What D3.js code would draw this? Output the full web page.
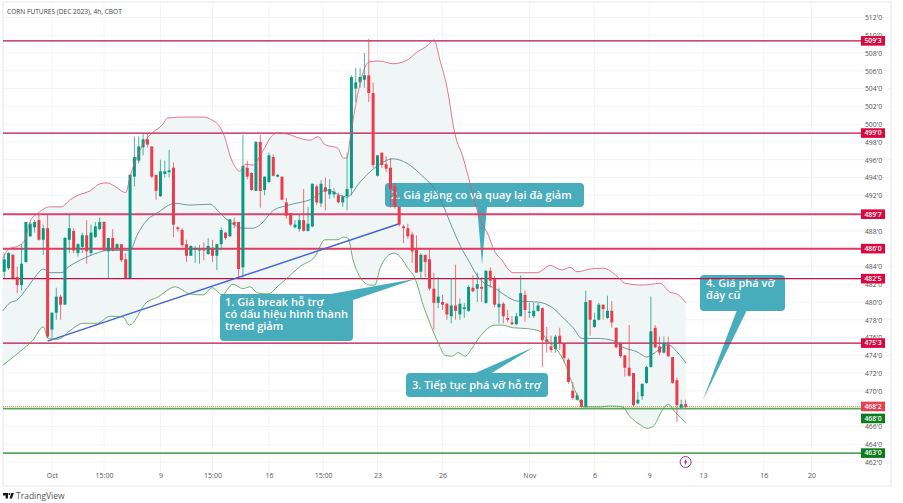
<!DOCTYPE html>
<html><head><meta charset="utf-8">
<script src="https://cdn.jsdelivr.net/npm/d3@7"></script>
<style>html,body{margin:0;padding:0;background:#fff}svg{display:block}text{font-family:"Open Sans",sans-serif}</style>
</head><body><div id="c"></div>
<script>
const titleText = "CORN FUTURES (DEC 2023), 4h, CBOT";
const opens = [483.4,483.8,485.3,482.8,481.9,484.5,487.4,488.4,489.2,487.0,488.3,476.9,478.8,480.6,479.7,487.0,488.0,485.5,486.2,487.5,485.5,487.3,488.2,489.0,485.7,487.2,486.0,486.5,484.8,482.7,494.1,495.9,497.4,498.3,497.5,494.3,491.9,494.4,494.6,495.1,488.4,488.1,486.5,485.2,486.0,485.8,485.9,485.4,486.1,485.2,486.5,487.8,487.4,489.0,489.0,483.9,495.1,494.5,492.5,498.0,492.6,493.5,496.3,494.1,494.1,491.2,490.0,488.4,488.2,489.2,488.0,488.5,493.0,491.1,492.9,492.1,492.1,492.0,491.2,491.9,492.8,504.0,504.7,505.0,505.5,503.5,494.2,496.8,495.5,495.1,493.0,490.7,488.5,488.3,487.6,485.9,483.4,485.3,484.8,481.5,479.9,480.0,479.8,478.4,479.6,478.6,479.2,479.0,481.6,481.5,481.7,479.9,483.5,482.6,479.4,479.8,478.2,477.7,477.5,478.4,480.8,478.9,478.4,479.0,479.3,475.8,475.0,474.7,476.2,475.3,473.5,470.0,469.0,469.0,468.2,480.2,477.2,478.0,479.7,478.2,479.0,477.1,475.4,474.0,472.6,472.0,468.6,469.4,470.9,472.7,477.1,475.0,474.3,475.2,473.8,471.2,468.1,468.5];
const highs = [485.5,485.6,485.4,484.0,486.5,489.0,489.0,489.2,489.8,488.7,489.8,478.8,481.6,480.8,487.3,489.8,488.3,486.6,487.8,489.2,488.7,489.0,489.5,489.1,487.2,488.2,486.6,486.5,485.5,494.4,498.6,498.6,499.0,499.0,497.5,494.3,496.0,495.9,497.1,495.7,488.5,488.3,487.0,486.4,486.3,486.4,486.7,487.2,487.0,486.5,488.4,487.9,489.3,489.5,489.0,498.8,495.9,494.6,498.1,498.8,494.1,496.8,496.6,494.4,494.1,491.7,490.0,489.2,489.8,492.7,490.7,493.3,493.2,493.7,494.0,493.8,492.8,492.3,492.0,496.8,505.5,506.3,506.3,508.0,509.6,504.7,496.5,496.8,496.4,496.2,493.4,490.7,488.7,488.8,487.9,487.5,485.5,485.3,486.0,483.3,482.8,480.8,479.9,482.7,484.2,480.4,479.9,481.9,483.0,483.3,482.8,483.6,483.9,482.9,481.6,480.0,479.1,478.4,478.8,483.0,481.3,479.9,479.9,479.9,479.4,477.2,476.2,476.3,477.1,475.3,473.7,471.0,469.8,469.1,481.3,480.2,478.8,479.9,479.7,480.7,480.1,477.1,475.4,474.0,477.4,472.0,469.9,470.8,472.8,480.6,477.4,476.1,476.1,476.1,473.8,471.5,469.0,469.0];
const lows = [482.7,483.6,482.7,481.0,481.3,484.4,487.3,487.8,486.9,485.3,475.9,475.9,478.0,478.0,479.7,485.5,485.5,485.1,485.5,484.3,485.3,487.2,488.1,485.7,482.7,485.7,485.8,484.5,482.6,482.7,493.0,495.6,496.5,497.4,493.9,491.5,491.8,494.0,494.0,487.3,487.9,486.2,484.5,485.2,484.4,484.3,484.7,485.3,484.5,483.6,485.8,487.0,487.3,488.3,482.7,482.7,493.8,492.5,492.5,490.6,492.0,493.4,494.1,494.0,491.4,489.4,488.5,488.3,487.9,487.9,487.9,488.4,490.9,490.7,490.3,491.6,491.7,491.1,490.7,490.3,492.0,502.5,504.1,504.1,502.5,495.1,494.1,495.1,494.6,490.6,490.5,488.5,486.6,487.1,484.4,483.3,482.7,482.8,481.3,476.9,479.3,479.1,478.0,477.6,478.0,478.0,478.2,478.9,481.1,480.0,480.0,479.8,481.6,479.4,477.6,477.6,477.7,477.4,477.4,478.4,477.8,478.2,478.2,478.9,472.7,474.3,474.3,474.3,474.6,473.2,470.8,469.0,468.9,468.1,468.1,476.2,477.1,477.9,478.0,478.1,477.1,474.8,473.7,471.6,471.6,468.3,468.5,469.0,470.8,472.6,474.8,474.0,474.2,473.8,470.8,466.5,468.1,468.1];
const closes = [484.8,485.5,482.7,481.9,484.3,489.0,488.8,489.0,487.0,488.3,476.1,478.8,480.6,479.7,487.2,488.3,485.8,486.5,487.5,485.7,487.8,488.5,489.0,485.8,487.2,485.8,486.5,484.7,482.7,494.3,496.3,497.5,498.3,497.7,494.1,492.5,494.7,494.7,494.8,488.7,488.2,486.4,485.2,486.3,486.0,485.9,485.8,486.3,485.2,486.5,488.1,487.2,489.3,488.7,483.7,495.3,494.1,492.6,498.0,492.5,494.1,496.5,494.2,494.3,491.5,489.7,488.7,488.7,489.2,488.0,488.8,493.3,491.2,493.3,492.4,492.7,492.4,491.2,491.9,492.7,505.3,504.7,505.3,505.5,503.5,495.4,496.5,495.4,495.0,492.7,490.7,488.7,488.3,487.4,485.7,483.3,485.3,484.5,481.5,479.9,480.6,479.7,478.6,479.6,479.0,479.8,479.4,481.7,481.2,482.0,481.5,483.5,482.4,479.7,479.8,478.4,478.0,477.5,478.4,481.0,479.1,478.9,479.0,479.6,475.7,475.5,474.6,476.1,475.3,473.7,471.0,469.2,469.5,468.2,480.0,478.0,478.0,479.7,479.2,479.0,477.7,474.9,473.9,472.6,471.7,468.4,469.0,470.8,472.7,476.7,474.9,474.3,475.4,473.9,470.9,468.4,468.5,468.2];

const upperIdx = [-0.3,0.9,3.6,4.8,5.9,7.8,10.6,13.1,15.2,17,19.8,22.1,23.7,25.5,26.7,28,29,30.6,32.9,34.3,36.4,37.7,41.7,45.8,48.1,49.7,50.9,52,53.2,54.3,55.5,57.3,59,60.1,61.2,62.9,65.2,68.2,70.5,72.3,73.9,76.9,78.1,79,79.5,80.4,82,84,86.6,89.6,92.8,95.1,97.7,99,100.4,102,103.9,105.7,107.3,109,110.3,111.2,113.1,114.7,116.1,117.2,122.8,125.8,128.5,130.4,132,135,138,141.2,143,147.2,151.1,153.4,155,157.1];
const upperVal = [484.9,485.9,486.4,487.0,489.0,490.0,490.7,490.7,491.5,492.0,492.5,493.3,493.4,493.0,492.6,492.3,494.1,496.3,498.4,499.1,499.9,500.7,500.8,500.8,500.4,499.7,498.4,496.5,495.2,494.7,495.5,495.4,496.5,497.4,498.4,499.0,498.9,498.4,498.2,498.6,497.7,497.3,496.2,496.2,497.7,500.5,504.6,507.0,507.1,506.8,507.2,508.1,508.9,509.5,507.2,504.2,498.8,496.3,493.4,490.3,488.6,487.9,485.6,484.7,483.7,483.3,483.3,484.1,483.6,483.9,483.4,483.7,483.8,482.9,482.1,481.9,482.1,481.1,480.9,479.9];
const lowerIdx = [-0.3,3.6,6.6,9,10.1,12.4,15.2,18.2,21.4,24.4,27.4,28.8,32.9,35.2,39.4,42.8,45.8,47.9,50.2,52.7,55,56.6,58.5,60.8,62.9,65.9,68.2,71.6,73.9,76.9,78.1,79.2,80.4,82,84.3,85.4,86.6,88.2,89.8,91.2,93,94.7,96.5,98.1,100,101.6,103.2,104.6,106.2,107.8,109.6,113.1,114.7,117.2,120.5,123.5,125.1,127.4,129.2,130.8,132,133.4,137.3,139.6,142.4,144.2,146.5,148.1,149.5,151.6,153,154.6,157.1];
const lowerVal = [472.9,474.4,475.7,477.2,475.9,475.8,476.8,477.6,477.6,478.4,478.3,477.4,480.0,480.5,481.7,480.9,480.8,481.6,480.8,482.0,481.5,481.7,481.0,480.9,481.7,483.0,484.0,485.1,487.0,487.0,487.3,487.2,484.7,482.8,481.9,481.9,483.8,485.1,485.5,485.1,483.8,482.6,479.7,477.6,475.4,474.0,473.9,474.3,473.9,474.8,476.1,477.4,477.4,477.1,477.0,476.7,475.7,474.6,473.1,470.9,469.5,468.2,468.2,468.3,468.2,467.1,466.2,465.8,466.0,467.8,468.5,467.6,466.4];
const basisIdx = [-0.3,1.3,2.9,5.3,7.1,9,10.6,13.3,14.7,17.5,21.4,23.7,26,29,30.6,32.9,35.2,39.4,42.8,47.4,49.7,52,55,57.3,59,62,64.7,68.2,70.5,74.4,77.4,79,82,85.4,89.6,92.8,96.5,99.3,100.9,103.2,105,107.3,109.2,113.5,115.9,118.2,122.8,126.5,128.8,131.1,133.1,136.6,140,142.6,145.8,148.1,149.9,153,155,157.1];
const basisVal = [479.0,479.9,480.2,481.6,482.8,483.7,483.3,483.3,483.9,484.7,485.5,485.8,485.8,485.8,487.5,489.2,490.0,491.1,490.9,491.0,490.0,489.0,488.3,488.3,488.7,490.3,490.8,491.2,491.5,492.6,492.0,491.8,493.5,495.1,496.1,495.6,494.1,492.6,491.1,488.4,486.4,484.4,482.8,481.4,480.6,480.1,480.0,479.3,478.2,477.1,475.9,475.9,475.7,474.9,474.4,473.8,474.3,475.2,474.4,473.1];

const priceTicks = d3.range(462, 513, 2);
const timeTickIdx = [11,23,36,48,61,73.5,86,101,121,136,148.6,161,175,186];
const timeTickLabels = ["Oct","15:00","9","15:00","16","15:00","23","26","Nov","6","9","13","16","20"];
const levelPrices = [509.375,499,489.875,486,482.625,475.375];
const levelLabels = ["509'3","499'0","489'7","486'0","482'5","475'3"];
const levelWeights = [1.3,1.3,2,2,1.3,1.3];
const levelColors = ["#bd1148","#bd1148","#d8446f","#e4395f","#bd1148","#bd1148"];
const supportPrices = [468,463];
const supportLabels = ["468'0","463'0"];
const supportTagPrices = [466.9,463];
const trendIdx = [10,91];
const trendVal = [475.6,488.8];
const lastPrice = 468.25;
const lastLabel = "468'2";

const callouts = [
 {box:[220,294,133,47], tail:[[325,295],[353,300]], tip:[94.9,482.6], lines:["1. Giá break hỗ trợ","có dấu hiệu hình thành","trend giảm"], tx:225},
 {box:[385,183,199,24], tail:[[477,206],[487,206]], tip:[110.1,484.2], lines:["2. Giá giằng co và quay lại đà giảm"], tx:391},
 {box:[406,373,142,24], tail:[[473,374],[490,374]], tip:[122,474.9], lines:["3. Tiếp tục phá vỡ hỗ trợ"], tx:412},
 {box:[700,275,85,36], tail:[[737,310],[747,310]], tip:[161,469], lines:["4. Giá phá vỡ","đáy cũ"], tx:706}
];

const W = 903, H = 503;
const svg = d3.select("#c").append("svg").attr("width",W).attr("height",H).attr("viewBox",`0 0 ${W} ${H}`);
const x = d3.scaleLinear().domain([0,157]).range([4.2,685.6]);
const y = d3.scaleLinear().domain([512,462]).range([17.5,462]);
const frame = {l:3,t:2,r:891,b:486,tagL:861,tagW:24,tagH:9.6};

// frame + grid
svg.append("g").selectAll("line").data(priceTicks).join("line")
  .attr("x1",frame.l).attr("x2",frame.r).attr("y1",d=>y(d)).attr("y2",d=>y(d)).attr("stroke","#f3f4f6");
svg.append("g").selectAll("line").data(timeTickIdx).join("line")
  .attr("x1",d=>x(d)).attr("x2",d=>x(d)).attr("y1",frame.t).attr("y2",frame.b-14).attr("stroke","#f3f4f6");
svg.append("rect").attr("x",frame.l).attr("y",frame.t).attr("width",frame.r-frame.l).attr("height",frame.b-frame.t)
  .attr("fill","none").attr("stroke","#e6e8ec");

// band fill
const pts = (ii,vv)=>ii.map((d,k)=>[x(d),y(vv[k])]);
const line = d3.line();
const smooth = d3.line().curve(d3.curveMonotoneX);
const up = pts(upperIdx,upperVal), lo = pts(lowerIdx,lowerVal), ba = pts(basisIdx,basisVal);
svg.append("path").attr("d",line(up.concat(lo.slice().reverse()))+"Z").attr("fill","#f0f6f6");

// callouts (sit under the series)
const cg = svg.append("g");
callouts.forEach(c=>{
  const [bx,by,bw,bh]=c.box;
  cg.append("rect").attr("x",bx).attr("y",by).attr("width",bw).attr("height",bh).attr("rx",4).attr("fill","#47acbb");
  cg.append("path").attr("d",line([c.tail[0],c.tail[1],[x(c.tip[0]),y(c.tip[1])]])+"Z").attr("fill","#47acbb");
  c.lines.forEach((t,i)=>cg.append("text").attr("x",c.tx).attr("y",by+ (c.lines.length==1?16:11.5)+i*12.2)
     .attr("fill","#fff").attr("font-size",11).attr("font-weight",600).text(t));
});

// levels
svg.append("g").selectAll("line").data(levelPrices).join("line")
  .attr("x1",frame.l).attr("x2",frame.tagL).attr("y1",d=>y(d)).attr("y2",d=>y(d))
  .attr("stroke",(d,i)=>levelColors[i]).attr("stroke-width",(d,i)=>levelWeights[i]);
svg.append("line").attr("x1",frame.l).attr("x2",frame.tagL).attr("y1",y(lastPrice)).attr("y2",y(lastPrice))
  .attr("stroke","#c9a15a").attr("stroke-dasharray","1 1");
svg.append("g").selectAll("line").data(supportPrices).join("line")
  .attr("x1",frame.l).attr("x2",frame.tagL).attr("y1",d=>y(d)).attr("y2",d=>y(d))
  .attr("stroke","#5aa65c").attr("stroke-width",(d,i)=>i?1.8:1.6);
svg.append("line").attr("x1",x(trendIdx[0])).attr("x2",x(trendIdx[1])).attr("y1",y(trendVal[0])).attr("y2",y(trendVal[1]))
  .attr("stroke","#3f62d8").attr("stroke-width",1.4);

// candles
const GREEN="#089981", RED="#ee3b4c";
const idx=d3.range(opens.length);
const col=i=>closes[i]>=opens[i]?GREEN:RED;
svg.append("g").selectAll("line").data(idx).join("line")
  .attr("x1",i=>x(i)).attr("x2",i=>x(i)).attr("y1",i=>y(highs[i])).attr("y2",i=>y(lows[i]))
  .attr("stroke",col).attr("stroke-width",0.9).attr("opacity",0.8);
svg.append("g").selectAll("rect").data(idx).join("rect")
  .attr("x",i=>x(i)-1.5).attr("width",3)
  .attr("y",i=>y(Math.max(opens[i],closes[i])))
  .attr("height",i=>Math.max(1,Math.abs(y(opens[i])-y(closes[i]))))
  .attr("fill",col);

// band lines
[[up,"#e0566f"],[lo,"#4f9a50"],[ba,"#4d7f8a"]].forEach(([p,c])=>
  svg.append("path").attr("d",smooth(p)).attr("fill","none").attr("stroke",c).attr("stroke-width",0.8));

// axes
const fmt=p=>`${p}'0`;
const ay=d3.axisRight(y).tickValues(priceTicks).tickFormat(fmt).tickSize(0);
const gy=svg.append("g").attr("transform","translate(873.5,0)").call(ay);
gy.select(".domain").remove();
gy.selectAll("text").attr("x",0).attr("text-anchor","middle").attr("dy","0.34em")
  .attr("fill","#555").attr("font-size",6.8).style("font-family","'Open Sans',sans-serif");
const ax=d3.axisBottom(x).tickValues(timeTickIdx).tickFormat((d,i)=>timeTickLabels[i]).tickSize(0);
const gx=svg.append("g").attr("transform","translate(0,473.5)").call(ax);
gx.select(".domain").remove();
gx.selectAll("text").attr("y",0).attr("dy","0.71em").attr("fill","#555").attr("font-size",7).style("font-family","'Open Sans',sans-serif");

// tags
const tag=(cy,label,fill)=>{
  svg.append("rect").attr("x",frame.tagL).attr("y",cy-frame.tagH/2).attr("width",frame.tagW).attr("height",frame.tagH).attr("fill",fill);
  svg.append("text").attr("x",frame.tagL+frame.tagW/2).attr("y",cy).attr("dy","0.35em").attr("text-anchor","middle")
    .attr("fill","#fff").attr("font-size",6.8).attr("font-weight",600).text(label);
};
levelPrices.forEach((p,i)=>tag(y(p),levelLabels[i],"#d9093f"));
tag(y(lastPrice),lastLabel,"#e8404f");
supportTagPrices.forEach((p,i)=>tag(y(p),supportLabels[i],"#0c7c1c"));

// title, logo, event marker
svg.append("text").attr("x",7).attr("y",13.5).attr("fill","#444").attr("font-size",6.6).text(titleText);
svg.append("path").attr("fill","#131722").attr("d","M3 493h5v5.4H5.6v-3H3zM9.6 498.4l1.7-5.4h2.6l-2 5.4z");
svg.append("circle").attr("cx",9.4).attr("cy",494).attr("r",1).attr("fill","#131722");
svg.append("text").attr("x",16).attr("y",499).attr("fill","#555").attr("font-size",8.5).text("TradingView");
const evX=x(157), evY=y(462);
svg.append("circle").attr("cx",evX).attr("cy",evY).attr("r",5.5).attr("fill","#fff").attr("stroke","#b5307f");
svg.append("path").attr("fill","#b5307f").attr("d",`M${evX+0.8} ${evY-3.6}L${evX-2} ${evY+0.6}H${evX-0.3}L${evX-0.8} ${evY+3.6}L${evX+2} ${evY-0.8}H${evX+0.3}Z`);
</script></body></html>
